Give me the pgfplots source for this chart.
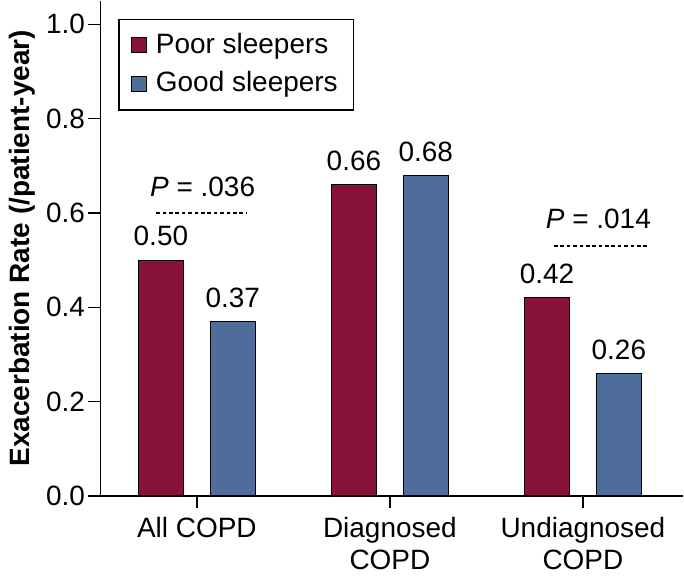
\documentclass[border=0pt]{standalone}
\usepackage{pgfplots}
\pgfplotsset{compat=1.18}
\usepackage{fontspec}
\setmainfont{Liberation Sans}
\definecolor{poor}{RGB}{137,18,56}
\definecolor{good}{RGB}{78,109,155}

\begin{document}
\fontsize{14}{16}\selectfont
\begin{tikzpicture}
\begin{axis}[
    scale only axis,
    width=292pt, height=248pt,
    ybar,
    bar width=22.5pt,
    axis lines=left,
    axis line style={-, line width=0.7pt},
    x axis line style={shorten <=-6pt},
    xmin=-0.5, xmax=2.52,
    ymin=0, ymax=1.05,
    xtick={0,1,2},
    xticklabels={All COPD, Diagnosed\\COPD, Undiagnosed\\COPD},
    xticklabel style={align=center, font=\fontsize{14}{16}\selectfont},
    ytick={0,0.2,0.4,0.6,0.8,1.0},
    yticklabel style={/pgf/number format/fixed, /pgf/number format/precision=1,
        /pgf/number format/fixed zerofill, font=\fontsize{14}{16}\selectfont,
        inner xsep=1.5pt},
    /pgf/number format/assume math mode=true,
    tick align=outside,
    major tick length=6pt,
    tick style={line width=0.7pt, black},
    ylabel={\bfseries Exacerbation Rate (/patient-year)},
    ylabel style={font=\fontsize{14}{16}\selectfont, yshift=-1pt},
    nodes near coords,
    nodes near coords style={/pgf/number format/fixed, /pgf/number format/precision=2,
        /pgf/number format/fixed zerofill, font=\fontsize{14}{16}\selectfont, yshift=2pt},
    legend style={at={(0.031,0.964)}, anchor=north west, draw=black, line width=0.6pt,
        font=\fontsize{14}{16}\selectfont, inner xsep=6pt, inner ysep=5pt,
        row sep=3pt},
    legend image code/.code={\draw[#1, draw=black, line width=0.5pt] (0pt,-3.8pt) rectangle (7.6pt,3.8pt);
        \path (10pt,0pt);},
    legend cell align=left,
    clip=false,
]
\addplot[fill=poor, draw=black, line width=0.5pt, bar shift=-18pt]
    coordinates {(0,0.50) (1,0.66) (2,0.42)};
\addplot[fill=good, draw=black, line width=0.5pt, bar shift=18pt]
    coordinates {(0,0.37) (1,0.68) (2,0.26)};
\legend{Poor sleepers, Good sleepers}
\draw[line width=0.6pt, dash pattern=on 1.8pt off 1.4pt] (axis cs:-0.21,0.60) -- (axis cs:0.26,0.60);
\node at (axis cs:0.03,0.655) {\itshape P\upshape\ = .036};
\draw[line width=0.6pt, dash pattern=on 1.8pt off 1.4pt] (axis cs:1.85,0.53) -- (axis cs:2.33,0.53);
\node at (axis cs:2.08,0.588) {\itshape P\upshape\ = .014};
\end{axis}
\end{tikzpicture}
\end{document}
